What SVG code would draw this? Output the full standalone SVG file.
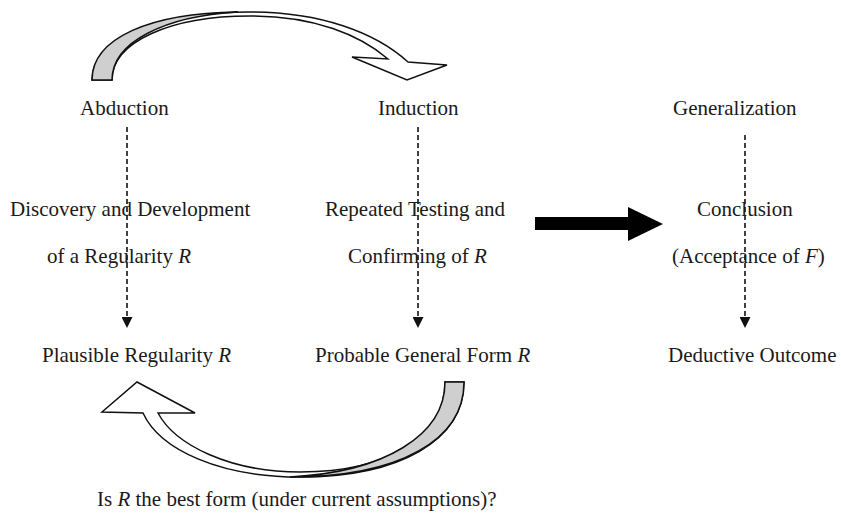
<svg xmlns="http://www.w3.org/2000/svg" width="841" height="513" viewBox="0 0 841 513">
<defs>
<style>
text { font-family: "Liberation Serif", "Times New Roman", serif; font-size: 21px; fill: #1a1a1a; }
.it { font-style: italic; }
.dash { stroke: #111; stroke-width: 1.6; stroke-dasharray: 5 3; fill: none; }
.ribbon { fill: #fff; stroke: #111; stroke-width: 1.5; stroke-linejoin: miter; }
.shade { fill: #cfcfcf; stroke: #111; stroke-width: 1.5; }
</style>
<marker id="ah" viewBox="0 0 11 11" refX="0" refY="5.5" markerWidth="11" markerHeight="11" markerUnits="userSpaceOnUse" orient="auto">
<path d="M0,0 L11,5.5 L0,11 Z" fill="#111"/>
</marker>
</defs>
<rect width="841" height="513" fill="#fff"/>

<g id="connectors">
<line class="dash" x1="127" y1="127" x2="127" y2="317" marker-end="url(#ah)"/>
<line class="dash" x1="418" y1="127" x2="418" y2="317" marker-end="url(#ah)"/>
<line class="dash" x1="745" y1="135" x2="745" y2="317" marker-end="url(#ah)"/>
<g id="top-arrow">
<path class="ribbon" d="M92,80 C92,38 160,12 250,12 C320,12 375,32 408,62 L447,65 L407,80 L352,57 L388,59 C360,35 315,16 250,16 C170,16 112,42 112,80 Z"/>
<path class="shade" d="M92,80 C92,38 150,13 238,12 C165,16 112,42 112,80 Z"/>
</g>
<g id="bottom-arrow">
<path class="ribbon" d="M464,382 C464,440 400,477 300,477 C220,477 160,450 143,413 L102,412 L137,382 L195,413 L158,413 C175,445 230,472 300,472 C390,472 445,435 445,382 Z"/>
<path class="shade" d="M464,382 C464,440 400,477 290,477 C385,472 445,435 445,382 Z"/>
</g>
<polygon id="big-arrow" points="535,217 628,217 628,207 663,224 628,241 628,230 535,230" fill="#000"/>
</g>

<g id="abduction"><text x="80" y="115">Abduction</text></g>
<g id="induction"><text x="378" y="115">Induction</text></g>
<g id="generalization"><text x="673" y="115">Generalization</text></g>

<g id="discovery">
<text x="10" y="216">Discovery and Development</text>
<text x="47" y="263">of a Regularity <tspan class="it">R</tspan></text>
</g>
<g id="testing">
<text x="325" y="216">Repeated Testing and</text>
<text x="348" y="263">Confirming of <tspan class="it">R</tspan></text>
</g>
<g id="conclusion">
<text x="697" y="216">Conclusion</text>
<text x="672" y="263">(Acceptance of <tspan class="it">F</tspan>)</text>
</g>

<g id="plausible"><text x="42" y="362">Plausible Regularity <tspan class="it">R</tspan></text></g>
<g id="probable"><text x="315" y="362">Probable General Form <tspan class="it">R</tspan></text></g>
<g id="deductive"><text x="668" y="362">Deductive Outcome</text></g>

<g id="question"><text x="97" y="506">Is <tspan class="it">R</tspan> the best form (under current assumptions)?</text></g>
</svg>
